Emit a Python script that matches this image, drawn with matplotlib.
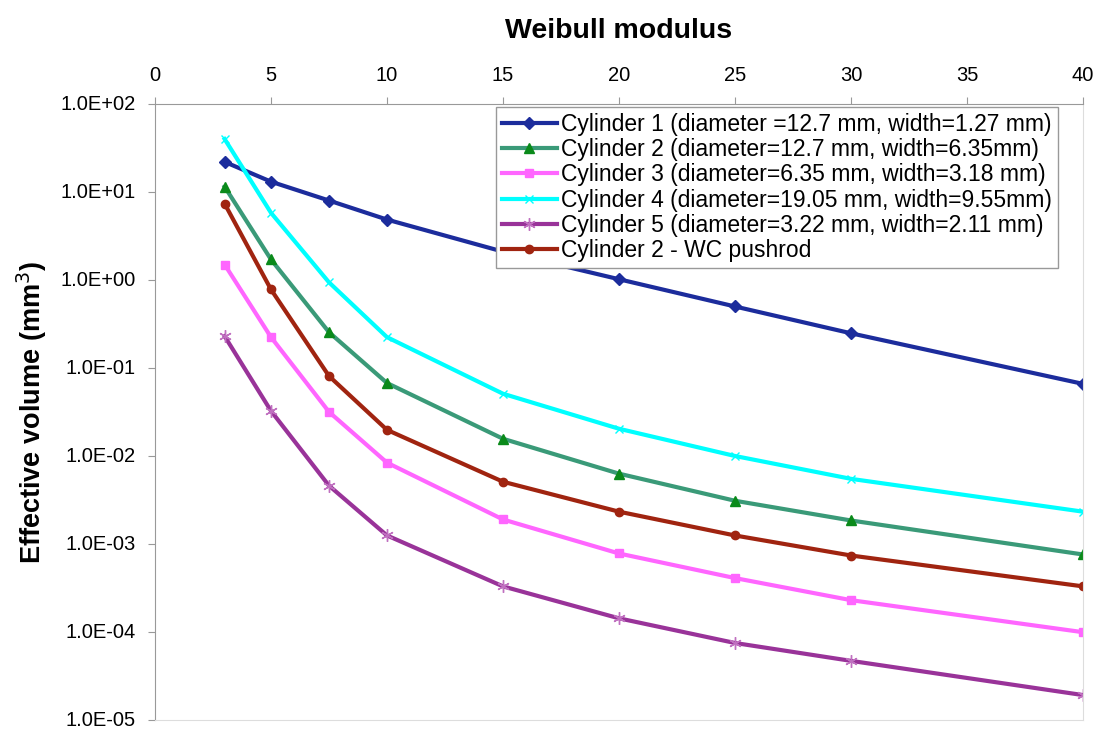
import matplotlib.pyplot as plt
from matplotlib.ticker import FuncFormatter, NullLocator

plt.rcParams['font.family'] = ['Liberation Sans', 'DejaVu Sans']

# Weibull modulus values where the effective volume was computed
modulus = [3, 5, 7.5, 10, 15, 20, 25, 30, 40]

# effective volume (mm^3) per specimen
cyl1 = [22.0, 13.1, 8.0, 4.86, 2.1, 1.02, 0.50, 0.248, 0.066]
cyl2 = [11.5, 1.71, 0.255, 0.0675, 0.0157, 0.0063, 0.0031, 0.00185, 0.00076]
cyl3 = [1.50, 0.224, 0.0317, 0.0084, 0.0019, 0.00078, 0.00041, 0.00023, 0.0000995]
cyl4 = [40.0, 5.8, 0.94, 0.224, 0.051, 0.0204, 0.0100, 0.0055, 0.00233]
cyl5 = [0.23, 0.0325, 0.0046, 0.00125, 0.00033, 0.000143, 0.000075, 0.000047, 0.0000192]
cyl2_wc = [7.37, 0.78, 0.081, 0.0198, 0.0051, 0.00233, 0.00125, 0.00074, 0.00033]

labels = [
    "Cylinder 1 (diameter =12.7 mm, width=1.27 mm)",
    "Cylinder 2 (diameter=12.7 mm, width=6.35mm)",
    "Cylinder 3 (diameter=6.35 mm, width=3.18 mm)",
    "Cylinder 4 (diameter=19.05 mm, width=9.55mm)",
    "Cylinder 5 (diameter=3.22 mm, width=2.11 mm)",
    "Cylinder 2 - WC pushrod",
]

fig = plt.figure(figsize=(11.03, 7.38), dpi=100)
ax = fig.add_axes([155 / 1103, 1 - 720 / 738, (1083 - 155) / 1103, (720 - 104) / 738])

ax.plot(modulus, cyl1, color='#1C2C9C', lw=3, marker='D', ms=6, label=labels[0])
ax.plot(modulus, cyl2, color='#3A9A78', lw=3, marker='^', ms=7,
        mfc='#0A8A1A', mec='#0A8A1A', label=labels[1])
ax.plot(modulus, cyl3, color='#FF66FF', lw=3, marker='s', ms=6, label=labels[2])
ax.plot(modulus, cyl4, color='#00FFFF', lw=3, marker='x', ms=6, mew=1, label=labels[3])
ax.plot(modulus, cyl5, color='#993399', lw=3, marker=(6, 2, 0), ms=9, mew=1,
        mec='#C070C0', label=labels[4])
ax.plot(modulus, cyl2_wc, color='#A02410', lw=3, marker='o', ms=6, label=labels[5])

ax.set_yscale('log')
ax.set_ylim(1e-5, 1e2)
ax.set_xlim(0, 40)
ax.set_xticks(range(0, 41, 5))
ax.yaxis.set_minor_locator(NullLocator())
ax.yaxis.set_major_formatter(FuncFormatter(lambda v, p: f"{v:.1E}"))

ax.xaxis.tick_top()
ax.xaxis.set_label_position('top')
ax.tick_params(axis='x', labelsize=14.5, direction='out', length=5, color='#999999', pad=9)
ax.tick_params(axis='y', labelsize=14.5, direction='out', length=5, color='#999999', pad=9)
for lbl in ax.get_yticklabels():
    lbl.set_verticalalignment('center')
for side in ['left', 'top']:
    ax.spines[side].set_color('#999999')
for side in ['right', 'bottom']:
    ax.spines[side].set_color('#DDDDDD')

ax.set_xlabel('Weibull modulus', fontsize=20.5, fontweight='bold', labelpad=20)
ax.set_ylabel('Effective volume (mm$^3$)', fontsize=19.5, fontweight='bold', labelpad=8)

leg = ax.legend(loc='upper right', fontsize=16.5, frameon=True, fancybox=False,
                framealpha=1, edgecolor='#999999', handlelength=2.4, handletextpad=0.2,
                labelspacing=0.1, borderpad=0.25, borderaxespad=0)
leg.set_bbox_to_anchor((1058 / 1103, 1 - 107 / 738), transform=fig.transFigure)

fig.savefig('out.png', dpi=100)
